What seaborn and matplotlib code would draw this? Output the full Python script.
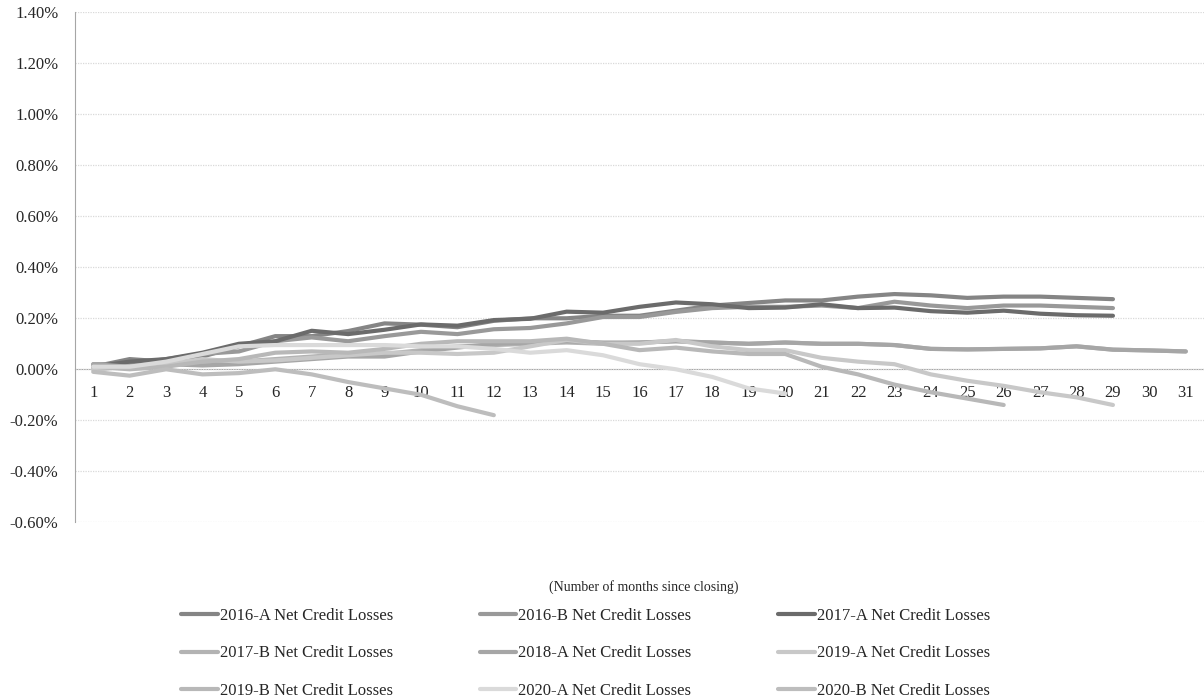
import numpy as np
import pandas as pd
import matplotlib
matplotlib.use("Agg")
import matplotlib.pyplot as plt
from matplotlib.ticker import FuncFormatter, FixedLocator
import seaborn as sns

# --- DATA (net credit losses, % of pool, by month since closing) ---
SERIES = [
    "2016-A Net Credit Losses", "2016-B Net Credit Losses", "2017-A Net Credit Losses",
    "2017-B Net Credit Losses", "2018-A Net Credit Losses", "2019-A Net Credit Losses",
    "2019-B Net Credit Losses", "2020-A Net Credit Losses", "2020-B Net Credit Losses",
]
COLORS = ["#858585", "#999999", "#6b6b6b", "#b3b3b3", "#a6a6a6",
          "#c8c8c8", "#b8b8b8", "#dadada", "#bdbdbd"]

ncl_2016a = [0.01, 0.04, 0.03, 0.05, 0.09, 0.13, 0.13, 0.15, 0.18, 0.175, 0.165, 0.19, 0.20, 0.20,
             0.21, 0.21, 0.23, 0.25, 0.26, 0.27, 0.27, 0.285, 0.295, 0.29, 0.28, 0.285, 0.285, 0.28, 0.275]
ncl_2016b = [0.02, 0.02, 0.04, 0.06, 0.07, 0.11, 0.125, 0.11, 0.13, 0.147, 0.138, 0.157, 0.162, 0.18,
             0.205, 0.205, 0.225, 0.24, 0.245, 0.245, 0.25, 0.24, 0.265, 0.25, 0.24, 0.25, 0.25, 0.245, 0.24]
ncl_2017a = [0.01, 0.03, 0.04, 0.065, 0.10, 0.11, 0.151, 0.138, 0.155, 0.176, 0.171, 0.193, 0.198, 0.226,
             0.222, 0.245, 0.262, 0.255, 0.24, 0.242, 0.255, 0.24, 0.242, 0.228, 0.222, 0.23, 0.218, 0.212, 0.21]
ncl_2017b = [0.00, 0.01, 0.02, 0.03, 0.03, 0.04, 0.05, 0.06, 0.06, 0.075, 0.09, 0.095, 0.10, 0.105,
             0.10, 0.105, 0.11, 0.105, 0.10, 0.105, 0.10, 0.10, 0.095, 0.08, 0.078, 0.08, 0.082, 0.09,
             0.077, 0.074, 0.07]
ncl_2018a = [0.02, 0.01, 0.02, 0.015, 0.02, 0.03, 0.04, 0.05, 0.05, 0.07, 0.085, 0.10, 0.105, 0.11,
             0.105, 0.105, 0.11, 0.105, 0.10, 0.105, 0.10, 0.10, 0.095, 0.08, 0.078, 0.08, 0.082, 0.09,
             0.077, 0.074, 0.07]
ncl_2019a = [0.00, 0.01, 0.02, 0.04, 0.03, 0.035, 0.045, 0.055, 0.065, 0.065, 0.06, 0.065, 0.09, 0.115,
             0.10, 0.10, 0.115, 0.09, 0.075, 0.075, 0.045, 0.03, 0.02, -0.02, -0.045, -0.065, -0.09,
             -0.11, -0.14]
ncl_2019b = [0.01, 0.00, 0.01, 0.03, 0.04, 0.065, 0.07, 0.065, 0.08, 0.10, 0.11, 0.11, 0.11, 0.12,
             0.10, 0.075, 0.085, 0.07, 0.06, 0.06, 0.01, -0.02, -0.06, -0.09, -0.115, -0.14]
ncl_2020a = [0.01, 0.01, 0.03, 0.06, 0.09, 0.095, 0.095, 0.095, 0.095, 0.09, 0.09, 0.08, 0.065, 0.075,
             0.055, 0.02, 0.0, -0.03, -0.075, -0.095]
ncl_2020b = [-0.01, -0.025, 0.0, -0.02, -0.015, 0.0, -0.02, -0.05, -0.075, -0.10, -0.145, -0.18]

ALL = [ncl_2016a, ncl_2016b, ncl_2017a, ncl_2017b, ncl_2018a,
       ncl_2019a, ncl_2019b, ncl_2020a, ncl_2020b]
MONTHS = list(range(1, 32))
Y_TICKS = [-0.6, -0.4, -0.2, 0.0, 0.2, 0.4, 0.6, 0.8, 1.0, 1.2, 1.4]

rows = []
for name, vals in zip(SERIES, ALL):
    for m, v in zip(MONTHS, vals):
        rows.append({"month": m, "ncl": v, "series": name})
df = pd.DataFrame(rows)

# --- PLOT ---
sns.set_style("white")
plt.rcParams["font.family"] = ["Liberation Serif", "DejaVu Serif"]
plt.rcParams["font.size"] = 12

fig = plt.figure(figsize=(12.04, 7.0), dpi=100)
ax = fig.add_axes([0.0623, 0.2539, 0.9377, 0.7285])

sns.lineplot(data=df, x="month", y="ncl", hue="series", hue_order=SERIES,
             palette=COLORS, linewidth=3, ax=ax, legend=False, sort=False)

ax.set_xlim(0.5, 31.5)
ax.set_ylim(-0.6, 1.4)
ax.yaxis.set_major_locator(FixedLocator(Y_TICKS))
ax.yaxis.set_major_formatter(FuncFormatter(lambda v, _: f"{v:.2f}%"))
ax.grid(axis="y", color="#d9d9d9", linestyle=(0, (1, 1)), linewidth=0.9)
ax.set_axisbelow(True)

# category axis drawn at zero, Excel style (ticks between categories)
for s in ["top", "right"]:
    ax.spines[s].set_visible(False)
ax.spines["left"].set_color("#a6a6a6")
ax.spines["bottom"].set_position(("data", 0))
ax.spines["bottom"].set_color("#a6a6a6")
ax.spines["bottom"].set_zorder(0.5)
ax.xaxis.set_major_locator(FixedLocator([m + 0.5 for m in MONTHS[:-1]]))
ax.xaxis.set_major_formatter(FuncFormatter(lambda v, _: ""))
ax.xaxis.set_minor_locator(FixedLocator(MONTHS))
ax.xaxis.set_minor_formatter(FuncFormatter(lambda v, _: f"{int(round(v))}"))
ax.tick_params(axis="x", which="major", direction="out", length=4, color="#a6a6a6")
ax.tick_params(axis="x", which="minor", length=0, pad=11, labelsize=12)
ax.tick_params(axis="y", direction="out", length=4, color="#a6a6a6", pad=8, labelsize=12)
ax.set_xlabel("")
ax.set_ylabel("")

fig.text(0.535, 1 - 587 / 700, "(Number of months since closing)", ha="center", va="center", fontsize=10)

# legend: row-major order in a 3-column layout
handles = [plt.Line2D([], [], color=c, linewidth=3) for c in COLORS]
order = [0, 3, 6, 1, 4, 7, 2, 5, 8]
fig.legend([handles[i] for i in order], [SERIES[i] for i in order], ncol=3,
           loc="upper left", bbox_to_anchor=(181 / 1204, 0.131), frameon=False,
           borderaxespad=0, borderpad=0, handlelength=2.2, handletextpad=0.12,
           columnspacing=5.2, labelspacing=1.27, fontsize=12)

fig.savefig("out.png", dpi=100)
